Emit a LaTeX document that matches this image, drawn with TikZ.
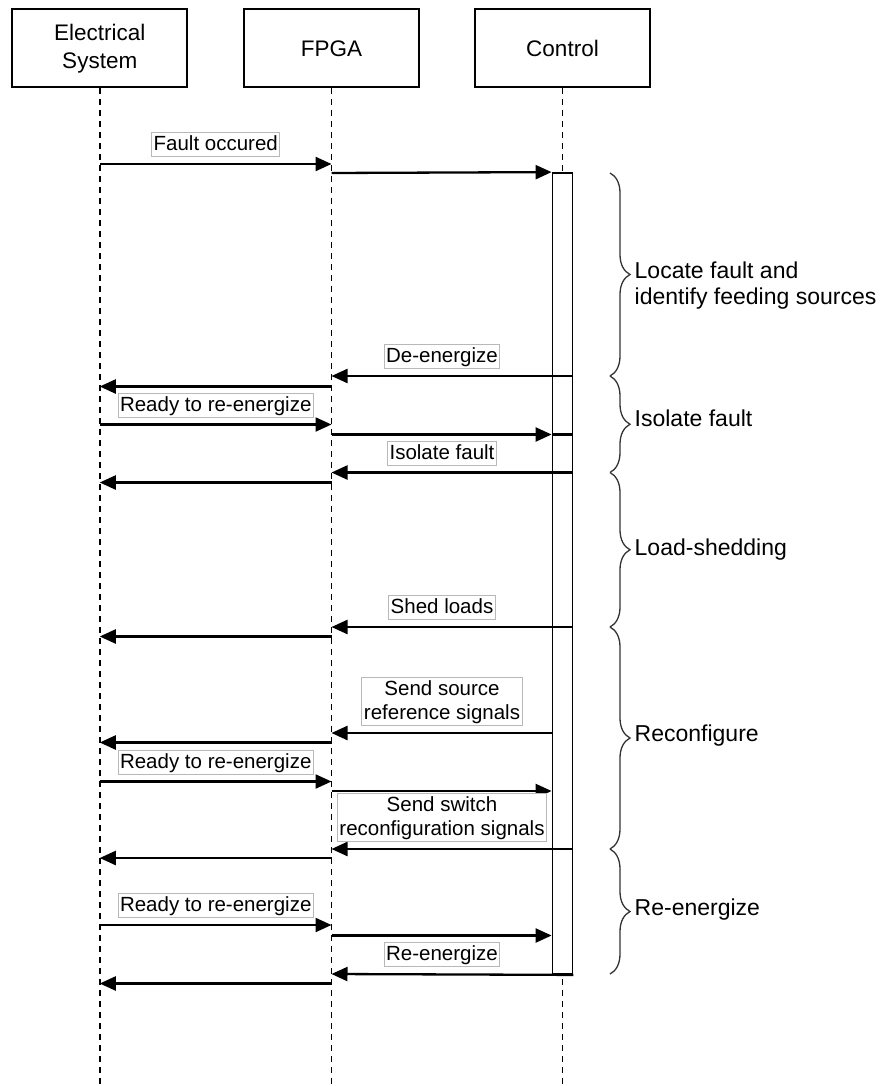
\documentclass[tikz,border=0pt]{standalone}
\usepackage{fontspec}
\setmainfont{Liberation Sans}
\usetikzlibrary{arrows.meta,decorations.pathreplacing}
% invisible strut that gives every message label the same line box
\newcommand\lblstrut{\rule[-5.5pt]{0pt}{23pt}}
\begin{document}
\begin{tikzpicture}[x=1pt,y=-1pt,
  actor/.style={draw, line width=1.8pt, minimum width=175pt, minimum height=78pt,
    inner sep=0pt, align=center, font=\fontsize{22.5}{28}\selectfont},
  life/.style={line width=1.5pt, dash pattern=on 6pt off 5pt},
  actbar/.style={draw, fill=white, line width=1.8pt, minimum width=20pt,
    minimum height=801pt, inner sep=0pt},
  msg/.style={line width=2.3pt, -{Triangle[length=16pt,width=14pt]}},
  plainline/.style={line width=2.3pt},
  lbl/.style={draw=black!28, line width=0.9pt, fill=white, inner xsep=2pt,
    inner ysep=0.5pt, align=center, anchor=south, font=\fontsize{20.5}{24}\selectfont},
  phase/.style={draw=black!80, line width=1.3pt, decorate,
    decoration={brace, amplitude=20pt}},
  phaselbl/.style={inner sep=0pt, align=left, font=\fontsize{23}{26}\selectfont}
]
\useasboundingbox (0,0) rectangle (886,1086);
\coordinate (bottom) at (0,1086);

% participants
\node[actor] (es)   at (99.75,48.3) {Electrical\\System};
\node[actor] (fpga) at (331.5,48.3) {FPGA};
\node[actor] (ctrl) at (562.5,48.3) {Control};

% lifelines
\draw[life] (es.south)   -- (es.south |- bottom);
\draw[life] (fpga.south) -- (fpga.south |- bottom);
\draw[life] (ctrl.south) -- (ctrl.south |- bottom);

% activation of the controller
\node[actbar] (bar) at (562.5,573.5) {};

% message rows
\coordinate (r1)  at (0,164);
\coordinate (r2)  at (0,173);
\coordinate (r3)  at (0,376);
\coordinate (r4)  at (0,386.5);
\coordinate (r5)  at (0,424.5);
\coordinate (r6)  at (0,434.5);
\coordinate (r7)  at (0,472.5);
\coordinate (r8)  at (0,482.5);
\coordinate (r9)  at (0,627);
\coordinate (r10) at (0,636.5);
\coordinate (r11) at (0,733);
\coordinate (r12) at (0,742.5);
\coordinate (r13) at (0,781.5);
\coordinate (r14) at (0,791);
\coordinate (r15) at (0,849);
\coordinate (r16) at (0,858);
\coordinate (r17) at (0,925);
\coordinate (r18) at (0,935.5);
\coordinate (r19) at (0,974);
\coordinate (r20) at (0,983.5);

% fault detection
\draw[msg] (es.south |- r1) -- (fpga.south |- r1);
\node[lbl] (l1) at (215.75,157) {\lblstrut Fault occured};
\draw[msg] (fpga.south |- r2) -- (bar.north west);

% isolation
\draw[msg] (bar.east |- r3) -- (fpga.south |- r3);
\node[lbl] (l3) at (442,369) {\lblstrut De-energize};
\draw[msg] (fpga.south |- r4) -- (es.south |- r4);
\draw[msg] (es.south |- r5) -- (fpga.south |- r5);
\node[lbl] (l5) at (215.75,417.5) {\lblstrut Ready to re-energize};
\draw[msg] (fpga.south |- r6) -- (bar.west |- r6);
\draw[plainline] (bar.west |- r6) -- (bar.east |- r6);
\draw[msg] (bar.east |- r7) -- (fpga.south |- r7);
\node[lbl] (l7) at (442,465.5) {\lblstrut Isolate fault};
\draw[msg] (fpga.south |- r8) -- (es.south |- r8);

% load shedding
\draw[msg] (bar.east |- r9) -- (fpga.south |- r9);
\node[lbl] (l9) at (442,620) {\lblstrut Shed loads};
\draw[msg] (fpga.south |- r10) -- (es.south |- r10);

% reconfiguration
\draw[msg] (bar.west |- r11) -- (fpga.south |- r11);
\node[lbl] (l11) at (442,726) {\lblstrut Send source\\\lblstrut reference signals};
\draw[msg] (fpga.south |- r12) -- (es.south |- r12);
\draw[msg] (es.south |- r13) -- (fpga.south |- r13);
\node[lbl] (l13) at (215.75,774.5) {\lblstrut Ready to re-energize};
\draw[msg] (fpga.south |- r14) -- (bar.west |- r14);
\draw[msg] (bar.east |- r15) -- (fpga.south |- r15);
\node[lbl] (l15) at (442,842) {\lblstrut Send switch\\\lblstrut reconfiguration signals};
\draw[msg] (fpga.south |- r16) -- (es.south |- r16);

% re-energizing
\draw[msg] (es.south |- r17) -- (fpga.south |- r17);
\node[lbl] (l17) at (215.75,918) {\lblstrut Ready to re-energize};
\draw[msg] (fpga.south |- r18) -- (bar.west |- r18);
\draw[msg] (bar.south east) -- (fpga.south |- r19);
\node[lbl] (l19) at (442,967) {\lblstrut Re-energize};
\draw[msg] (fpga.south |- r20) -- (es.south |- r20);

% phases
\coordinate (b0) at (610,173);
\coordinate (b1) at (610,376);
\coordinate (b2) at (610,472.5);
\coordinate (b3) at (610,627);
\coordinate (b4) at (610,849);
\coordinate (b5) at (610,974);
\draw[phase] (b0) -- (b1);
\draw[phase] (b1) -- (b2);
\draw[phase] (b2) -- (b3);
\draw[phase] (b3) -- (b4);
\draw[phase] (b4) -- (b5);
\node[phaselbl, anchor=west] (p1) at (634.5,286) {Locate fault and\\identify feeding sources};
\node[phaselbl, anchor=base west] (p2) at (634.5,426.7) {Isolate fault};
\node[phaselbl, anchor=base west] (p3) at (634.5,555.5) {Load-shedding};
\node[phaselbl, anchor=base west] (p4) at (634.5,741.5) {Reconfigure};
\node[phaselbl, anchor=base west] (p5) at (634.5,915) {Re-energize};
\end{tikzpicture}
\end{document}
